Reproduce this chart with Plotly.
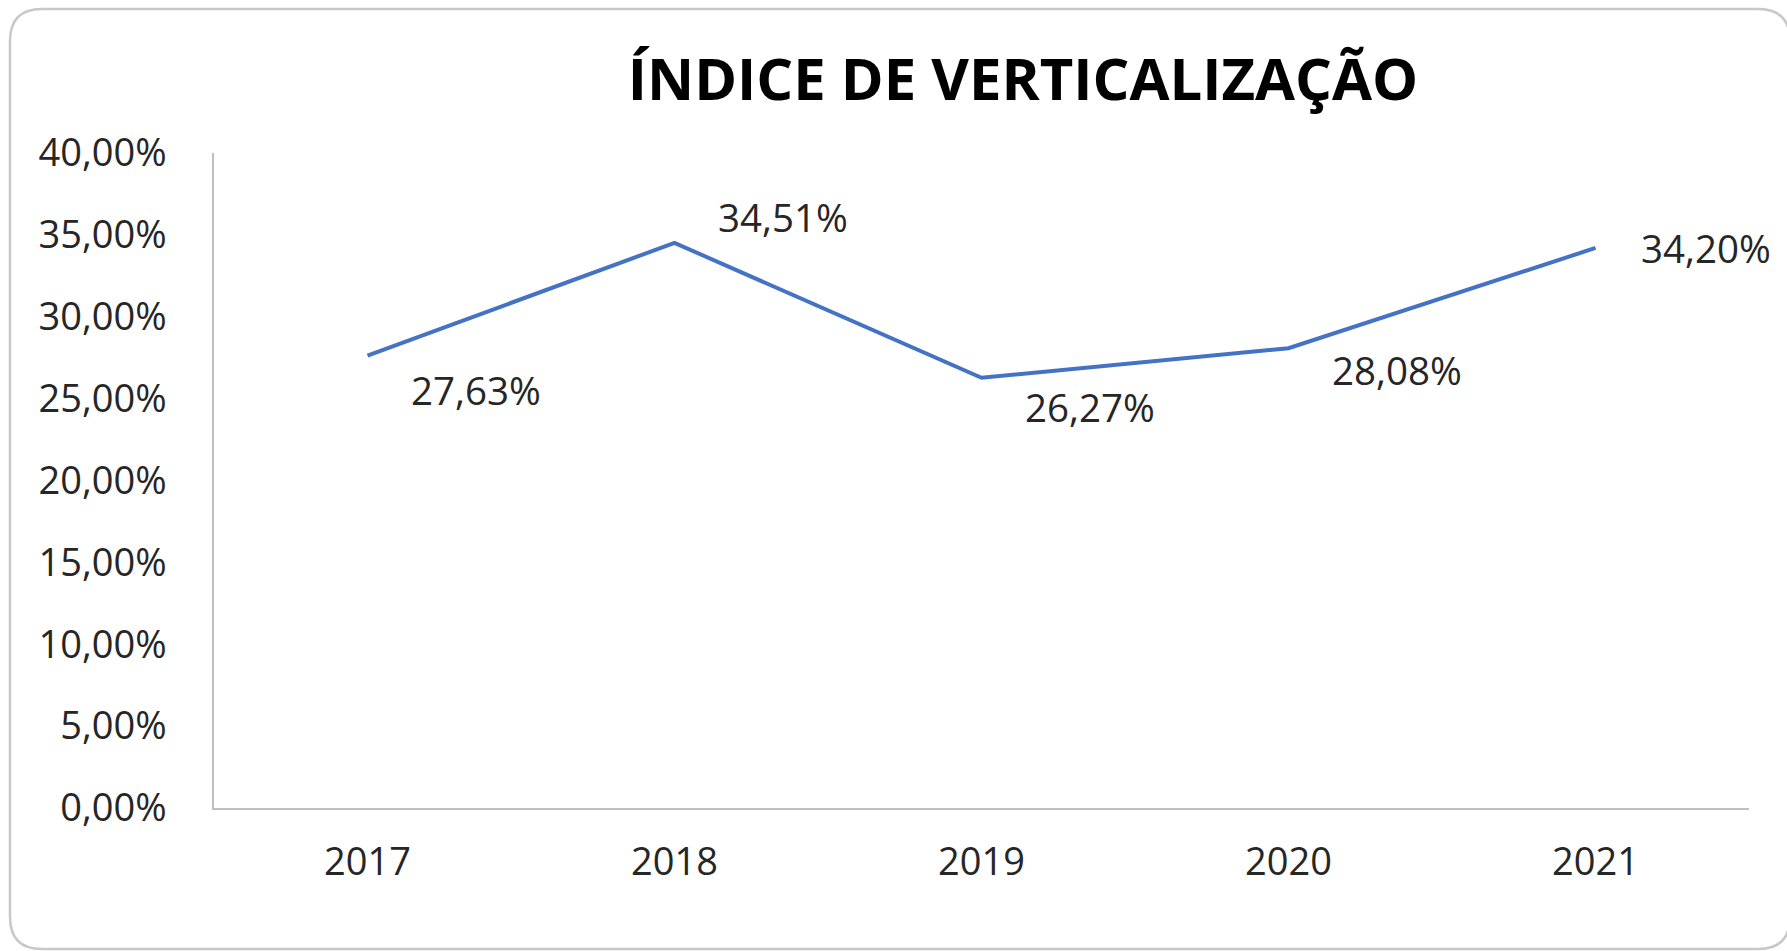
import plotly.graph_objects as go

# ---- data ----
years = ["2017", "2018", "2019", "2020", "2021"]
values = [0.2763, 0.3451, 0.2627, 0.2808, 0.3420]
tick_vals = [0.00, 0.05, 0.10, 0.15, 0.20, 0.25, 0.30, 0.35, 0.40]
title_text = "ÍNDICE DE VERTICALIZAÇÃO"

# ---- label placement (style) ----
label_xshift = [108, 108, 108, 108, 110]
label_yshift = [-34, 26, -29, -22, 0]

W, H = 1787, 951
L, R, T, B = 214, 1749, 153, 808  # plot area in px

def px_x(px):
    return (px - L) / (R - L)

def px_y(py):
    return (B - py) / (B - T)

FONT = "Open Sans"
TXT = "#262626"

fig = go.Figure()
fig.add_trace(go.Scatter(
    x=years, y=values, mode="lines",
    line=dict(color="#4472C4", width=4),
    showlegend=False, hoverinfo="skip",
))

annotations = []
for i, v in enumerate(values):
    annotations.append(dict(
        x=i, y=v, xref="x", yref="y",
        text=f"{v*100:.2f}%".replace(".", ","),
        showarrow=False, xanchor="center", yanchor="middle",
        xshift=label_xshift[i], yshift=label_yshift[i],
        font=dict(family=FONT, size=38.5, color=TXT),
    ))

# rounded border around chart area
l, t, r, b, rad = 10, 9, 1790, 949, 32
path = (
    f"M {px_x(l+rad)},{px_y(t)} "
    f"L {px_x(r-rad)},{px_y(t)} "
    f"Q {px_x(r)},{px_y(t)} {px_x(r)},{px_y(t+rad)} "
    f"L {px_x(r)},{px_y(b-rad)} "
    f"Q {px_x(r)},{px_y(b)} {px_x(r-rad)},{px_y(b)} "
    f"L {px_x(l+rad)},{px_y(b)} "
    f"Q {px_x(l)},{px_y(b)} {px_x(l)},{px_y(b-rad)} "
    f"L {px_x(l)},{px_y(t+rad)} "
    f"Q {px_x(l)},{px_y(t)} {px_x(l+rad)},{px_y(t)} Z"
)

fig.update_layout(
    width=W, height=H,
    margin=dict(l=L, r=W - R, t=T, b=H - B, autoexpand=False),
    paper_bgcolor="white", plot_bgcolor="white",
    separators=",.",
    annotations=annotations,
    shapes=[dict(type="path", path=path, xref="paper", yref="paper",
                 line=dict(color="#C8C8C8", width=2.5), layer="below")],
    title=dict(
        text=f"<b>{title_text}</b>",
        x=px_x(1023), xref="paper", xanchor="center",
        y=1 - 80 / H, yref="container", yanchor="middle",
        font=dict(family=FONT, size=58, color="#000000"),
    ),
    font=dict(family=FONT, color=TXT),
)
fig.update_xaxes(
    type="category", range=[-0.5, 4.5],
    showline=True, linecolor="#BFBFBF", linewidth=1.5,
    showgrid=False, zeroline=False, ticks="",
    tickfont=dict(family=FONT, size=38, color=TXT),
    ticklabelstandoff=20,
)
fig.update_yaxes(
    range=[0, 0.40], tickvals=tick_vals, tickformat=".2%",
    showline=True, linecolor="#BFBFBF", linewidth=1.5,
    showgrid=False, zeroline=False, ticks="",
    tickfont=dict(family=FONT, size=38, color=TXT),
    ticklabelstandoff=38,
)

fig.write_html(
    "out.html",
    config={"displayModeBar": False},
    post_script="document.body.style.margin='0';document.body.style.overflow='hidden';",
)
